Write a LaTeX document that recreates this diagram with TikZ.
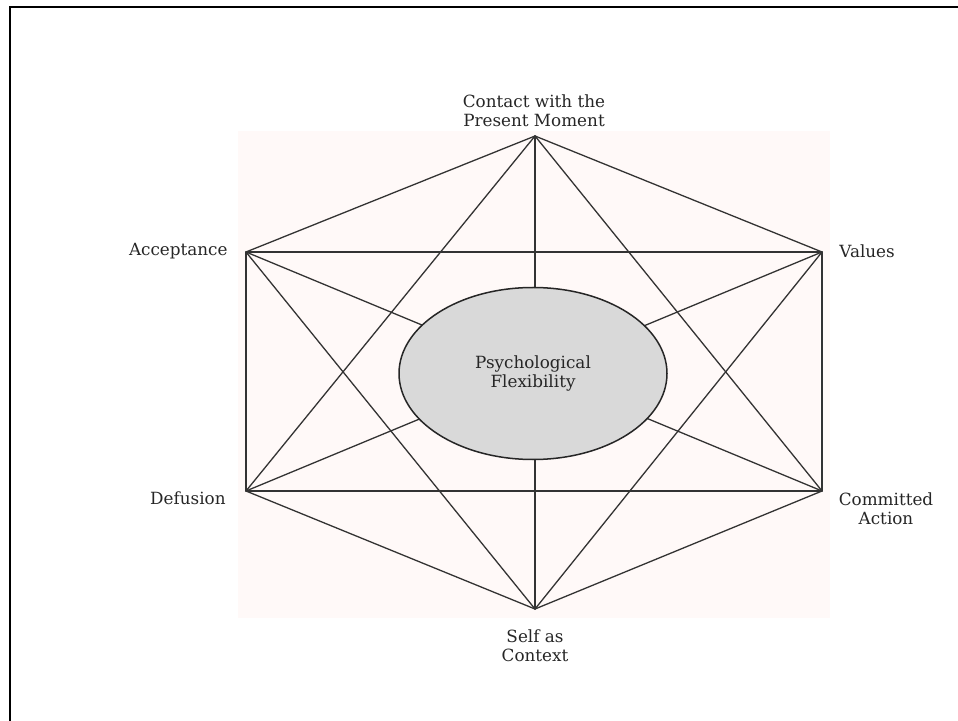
\documentclass[tikz,border=0pt]{standalone}
\usepackage{fontspec}
\setmainfont{DejaVu Serif}
\usetikzlibrary{shapes.geometric}
\definecolor{bgpink}{HTML}{FFF9F8}
\definecolor{ellgray}{HTML}{D9D9D9}
\definecolor{txtgray}{HTML}{262626}

\begin{document}
\begin{tikzpicture}[x=0.5pt,y=-0.5pt,line cap=round]
\tikzstyle{edge}=[draw=black!80,line width=0.65pt]
\tikzstyle{lbl}=[text=txtgray,font=\fontsize{8.4}{9.6}\selectfont,align=center,inner sep=0pt]
\useasboundingbox (0,0) rectangle (958,721);
\fill[bgpink] (238,131) rectangle (830,618);
\draw[line width=1pt] (10,721) -- (10,7) -- (958,7);
\coordinate (T) at (535,136);
\coordinate (A) at (246,252);
\coordinate (V) at (822,252);
\coordinate (D) at (246,491);
\coordinate (C) at (822,491);
\coordinate (S) at (535,609);
\foreach \p/\q in {T/A,T/V,T/D,T/C,T/S,A/V,A/D,A/C,A/S,V/D,V/C,V/S,D/C,D/S,C/S}
	\draw[edge] (\p) -- (\q);
\node[ellipse,draw=black!85,line width=0.75pt,fill=ellgray,minimum width=134pt,minimum height=86pt,inner sep=0pt,lbl] (pf) at (533,373.5) {Psychological\\Flexibility};
\node[lbl] (lt) at (534,111) {Contact with the\\Present Moment};
\node[lbl,anchor=east] (la) at (228,251) {Acceptance};
\node[lbl,anchor=west] (lv) at (839,251) {Values};
\node[lbl,anchor=east] (ld) at (226,498) {Defusion};
\node[lbl] (lc) at (886,509) {Committed\\Action};
\node[lbl] (ls) at (535,646) {Self as\\Context};
\end{tikzpicture}
\end{document}
